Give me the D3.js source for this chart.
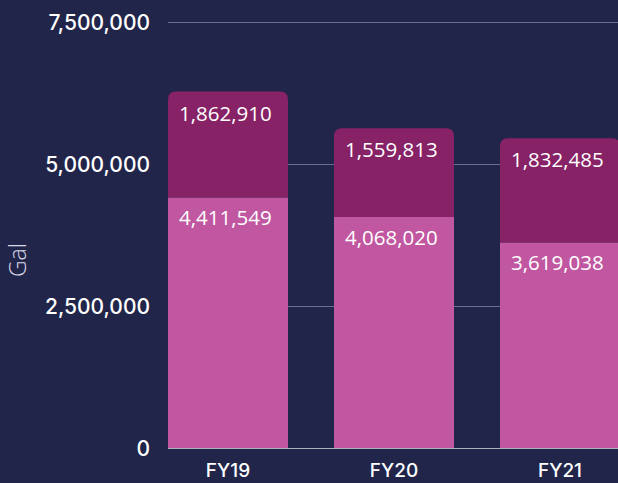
<!DOCTYPE html>
<html lang="en">
<head>
  <meta charset="UTF-8">
  <title>Gallons by Fiscal Year</title>
  <script src="https://d3js.org/d3.v7.min.js"></script>
  <style>
    html, body { margin: 0; padding: 0; background: #22254a; }
    svg { display: block; }
    .tick-y { font-family: Inter, sans-serif; font-weight: 500; font-size: 21px; fill: #ffffff; }
    .tick-x { font-family: Inter, sans-serif; font-weight: 500; font-size: 19px; fill: #ffffff; }
    .val { font-family: "Open Sans", sans-serif; font-size: 20.5px; fill: #ffffff; }
    .axis-title { font-family: "Open Sans", sans-serif; font-weight: 300; font-size: 23px; fill: #d8d9e6; }
  </style>
</head>
<body>
  <svg width="618" height="483"></svg>

  <script>
    const years = ["FY19", "FY20", "FY21"];
    const lower = [4411549, 4068020, 3619038];
    const upper = [1862910, 1559813, 1832485];
    const yTicks = [0, 2500000, 5000000, 7500000];

    const svg = d3.select("svg");
    const colLower = "#c057a0", colUpper = "#862265";

    const x = d3.scaleBand().domain(years).range([145, 643])
      .paddingInner(46 / 166).paddingOuter(23 / 166);
    const y = d3.scaleLinear().domain([0, 7500000]).range([448, 22]);
    const fmt = d3.format(",");

    // gridlines
    svg.append("g").selectAll("line")
      .data(yTicks)
      .enter().append("line")
      .attr("x1", 168).attr("x2", 618)
      .attr("y1", d => y(d) + 0.5).attr("y2", d => y(d) + 0.5)
      .attr("stroke", d => d === 0 ? "#a9b0b8" : "#6b6e8c")
      .attr("stroke-width", 1);

    // y tick labels
    svg.append("g").selectAll("text")
      .data(yTicks)
      .enter().append("text")
      .attr("class", "tick-y")
      .attr("x", 150)
      .attr("y", d => y(d))
      .attr("dy", "0.36em")
      .attr("text-anchor", "end")
      .text(d => fmt(d));

    // axis title
    svg.append("text")
      .attr("class", "axis-title")
      .attr("transform", "translate(26,260) rotate(-90)")
      .attr("text-anchor", "middle")
      .text("Gal");

    const rows = years.map((k, i) => ({ year: k, lo: lower[i], up: upper[i] }));
    const r = 8;

    // bottom segment
    svg.append("g").selectAll("rect")
      .data(rows)
      .enter().append("rect")
      .attr("x", d => x(d.year))
      .attr("width", x.bandwidth())
      .attr("y", d => y(d.lo))
      .attr("height", d => y(0) - y(d.lo))
      .attr("fill", colLower);

    // top segment with rounded top corners
    svg.append("g").selectAll("path")
      .data(rows)
      .enter().append("path")
      .attr("fill", colUpper)
      .attr("d", d => {
        const x0 = x(d.year), w = x.bandwidth();
        const t = y(d.lo + d.up), b = y(d.lo);
        return `M${x0},${b}V${t + r}Q${x0},${t} ${x0 + r},${t}H${x0 + w - r}Q${x0 + w},${t} ${x0 + w},${t + r}V${b}Z`;
      });

    // value labels
    svg.append("g").selectAll("text")
      .data(rows)
      .enter().append("text")
      .attr("class", "val")
      .attr("x", d => x(d.year) + 11)
      .attr("y", d => y(d.lo + d.up) + 29)
      .text(d => fmt(d.up));

    svg.append("g").selectAll("text")
      .data(rows)
      .enter().append("text")
      .attr("class", "val")
      .attr("x", d => x(d.year) + 11)
      .attr("y", d => y(d.lo) + 28)
      .text(d => fmt(d.lo));

    // x labels
    svg.append("g").selectAll("text")
      .data(years)
      .enter().append("text")
      .attr("class", "tick-x")
      .attr("x", d => x(d) + x.bandwidth() / 2)
      .attr("y", 477)
      .attr("text-anchor", "middle")
      .text(d => d);
  </script>
</body>
</html>
